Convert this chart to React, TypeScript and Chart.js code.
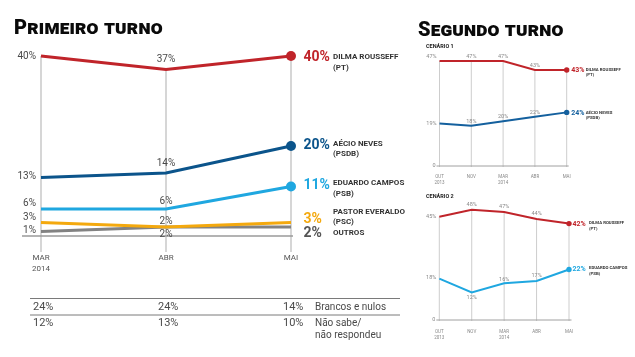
import { useEffect, useRef } from "react";
import { Chart, registerables } from "chart.js";

Chart.register(...registerables);

const FONT = "Roboto, 'Liberation Sans', sans-serif";

// ---------- Primeiro turno ----------
const MONTHS_1T = [["MAR", "2014"], ["ABR"], ["MAI"]];
const DILMA_1T = [40, 37, 40];
const AECIO_1T = [13, 14, 20];
const CAMPOS_1T = [6, 6, 11];
const EVERALDO_1T = [3, 2, 3];
const OUTROS_1T = [1, 2, 2];
const NAMES_1T = [
  ["DILMA ROUSSEFF", "(PT)"],
  ["AÉCIO NEVES", "(PSDB)"],
  ["EDUARDO CAMPOS", "(PSB)"],
  ["PASTOR EVERALDO", "(PSC)"],
  ["OUTROS"],
];
const BRANCOS_NULOS = [24, 24, 14];
const NAO_SABE = [12, 13, 10];
const TABLE_LABELS = [["Brancos e nulos"], ["Não sabe/", "não respondeu"]];

// ---------- Segundo turno ----------
const MONTHS_2T = [["OUT", "2013"], ["NOV"], ["MAR", "2014"], ["ABR"], ["MAI"]];
const C1_DILMA = [47, 47, 47, 43, 43];
const C1_AECIO = [19, 18, 20, 22, 24];
const C2_DILMA = [45, 48, 47, 44, 42];
const C2_CAMPOS = [18, 12, 16, 17, 22];
const NAMES_C1 = [["DILMA ROUSSEFF", "(PT)"], ["AÉCIO NEVES", "(PSDB)"]];
const NAMES_C2 = [["DILMA ROUSSEFF", "(PT)"], ["EDUARDO CAMPOS", "(PSB)"]];

const RED = "#c0242a";
const DARK_BLUE = "#0b548b";
const LIGHT_BLUE = "#1fa7e0";
const ORANGE = "#f4a90e";
const GRAY = "#828282";
const MID_BLUE = "#14609e";

interface PanelStyle {
  id: string;
  names: string[][];
  textColors: string[];
  grid: { color: string; width: number; extend: number };
  base: { color: string; width: number; left: number; right: number };
  value: { font: string; color: string };
  left: { gap: number; dy: number[]; zeroX?: number; zeroFont?: string };
  mid: { dy: number[][] };
  right: {
    valueFont: string;
    gap: number;
    dy: number[];
    nameFont: string;
    nameColor: string;
    nameGap: number;
    nameDy: number[];
    line: number;
  };
  xlab: { font: string; color: string; dy: number; line: number };
  title?: { text: string; x: number; y: number; font: string; color: string };
  table?: {
    lineY: number[];
    x0: number;
    x1: number;
    rowY: number[];
    lineH: number;
    colDx: number;
    labelDx: number;
    font: string;
    labelFont: string;
    color: string;
    lineColor: string;
    rows: number[][];
    labels: string[][];
  };
}

function txt(
  ctx: CanvasRenderingContext2D,
  s: string,
  x: number,
  y: number,
  font: string,
  color: string,
  align: CanvasTextAlign = "left"
) {
  ctx.font = font;
  ctx.fillStyle = color;
  ctx.textAlign = align;
  ctx.textBaseline = "middle";
  ctx.fillText(s, x, y);
}

function makePlugin(st: PanelStyle) {
  return {
    id: st.id,
    beforeDatasetsDraw(chart: any) {
      const { ctx } = chart;
      const x = chart.scales.x;
      const y = chart.scales.y;
      const n = chart.data.labels.length;
      const y0 = y.getPixelForValue(0);
      ctx.save();
      ctx.strokeStyle = st.grid.color;
      ctx.lineWidth = st.grid.width;
      for (let i = 0; i < n; i++) {
        let top = 0;
        chart.data.datasets.forEach((d: any) => {
          top = Math.max(top, d.data[i]);
        });
        const px = x.getPixelForValue(i);
        ctx.beginPath();
        ctx.moveTo(px, y.getPixelForValue(top));
        ctx.lineTo(px, y0 + st.grid.extend);
        ctx.stroke();
      }
      ctx.strokeStyle = st.base.color;
      ctx.lineWidth = st.base.width;
      ctx.beginPath();
      ctx.moveTo(x.getPixelForValue(0) - st.base.left, y0);
      ctx.lineTo(x.getPixelForValue(n - 1) + st.base.right, y0);
      ctx.stroke();
      ctx.restore();
    },
    afterDatasetsDraw(chart: any) {
      const { ctx } = chart;
      const x = chart.scales.x;
      const y = chart.scales.y;
      const labels = chart.data.labels as string[][];
      const n = labels.length;
      const y0 = y.getPixelForValue(0);
      ctx.save();
      chart.data.datasets.forEach((d: any, k: number) => {
        const data = d.data as number[];
        txt(
          ctx,
          `${data[0]}%`,
          x.getPixelForValue(0) - st.left.gap,
          y.getPixelForValue(data[0]) + st.left.dy[k],
          st.value.font,
          st.value.color,
          "right"
        );
        for (let i = 1; i < n - 1; i++) {
          txt(
            ctx,
            `${data[i]}%`,
            x.getPixelForValue(i),
            y.getPixelForValue(data[i]) + st.mid.dy[k][i - 1],
            st.value.font,
            st.value.color,
            "center"
          );
        }
        const xr = x.getPixelForValue(n - 1);
        const yr = y.getPixelForValue(data[n - 1]);
        txt(ctx, `${data[n - 1]}%`, xr + st.right.gap, yr + st.right.dy[k], st.right.valueFont, st.textColors[k]);
        st.names[k].forEach((line, j) => {
          txt(
            ctx,
            line,
            xr + st.right.nameGap,
            yr + st.right.nameDy[k] + j * st.right.line,
            st.right.nameFont,
            st.right.nameColor
          );
        });
      });
      if (st.left.zeroX !== undefined) {
        txt(ctx, "0", x.getPixelForValue(0) - st.left.zeroX, y0, st.left.zeroFont || st.value.font, st.value.color, "center");
      }
      labels.forEach((lab, i) => {
        lab.forEach((line, j) => {
          txt(ctx, line, x.getPixelForValue(i), y0 + st.xlab.dy + j * st.xlab.line, st.xlab.font, st.xlab.color, "center");
        });
      });
      if (st.title) {
        txt(ctx, st.title.text, st.title.x, st.title.y, st.title.font, st.title.color);
      }
      if (st.table) {
        const t = st.table;
        ctx.strokeStyle = t.lineColor;
        ctx.lineWidth = 1;
        t.lineY.forEach((ly) => {
          ctx.beginPath();
          ctx.moveTo(t.x0, ly);
          ctx.lineTo(t.x1, ly);
          ctx.stroke();
        });
        t.rows.forEach((row, r) => {
          row.forEach((v, i) => {
            txt(ctx, `${v}%`, x.getPixelForValue(i) + t.colDx, t.rowY[r], t.font, t.color);
          });
          t.labels[r].forEach((line, j) => {
            txt(ctx, line, x.getPixelForValue(n - 1) + t.labelDx, t.rowY[r] + j * t.lineH, t.labelFont, t.color);
          });
        });
      }
      ctx.restore();
    },
  };
}

function ds(data: number[], color: string, width: number, dot: number) {
  return {
    data,
    borderColor: color,
    backgroundColor: color,
    borderWidth: width,
    pointRadius: (c: any) => (dot > 0 && c.dataIndex === data.length - 1 ? dot : 0),
    pointBackgroundColor: color,
    pointBorderWidth: 0,
    pointHoverRadius: 0,
    tension: 0,
    fill: false,
    clip: false as any,
  };
}

function makeChart(
  canvas: HTMLCanvasElement,
  labels: string[][],
  datasets: any[],
  padding: { left: number; right: number; top: number; bottom: number },
  yMax: number,
  plugin: any
) {
  return new Chart(canvas, {
    type: "line",
    data: { labels: labels as any, datasets },
    options: {
      responsive: false,
      animation: false,
      devicePixelRatio: 1,
      events: [],
      layout: { padding },
      scales: {
        x: { display: false, offset: false },
        y: { display: false, min: 0, max: yMax },
      },
      plugins: { legend: { display: false }, tooltip: { enabled: false } },
    },
    plugins: [plugin],
  });
}

const MAIN_STYLE: PanelStyle = {
  id: "main1t",
  names: NAMES_1T,
  textColors: [RED, DARK_BLUE, LIGHT_BLUE, ORANGE, "#555555"],
  grid: { color: "#c9c9c9", width: 1.5, extend: 16 },
  base: { color: "#9a9a9a", width: 1.5, left: 19, right: 2 },
  value: { font: `10px ${FONT}`, color: "#4a4a4a" },
  left: { gap: 5, dy: [0.5, -1, -6, -5, -1] },
  mid: { dy: [[-10], [-10], [-8], [-6], [7]] },
  right: {
    valueFont: `bold 14px ${FONT}`,
    gap: 12.5,
    dy: [1, -1, -1, -3.5, 6],
    nameFont: `bold 8px ${FONT}`,
    nameColor: "#333333",
    nameGap: 42,
    nameDy: [1, -2.5, -3.5, -11, 6],
    line: 10.5,
  },
  xlab: { font: `8px ${FONT}`, color: "#555555", dy: 22, line: 10.5 },
  table: {
    lineY: [298.5, 315],
    x0: 30,
    x1: 400,
    rowY: [307.5, 323],
    lineH: 12,
    colDx: -8,
    labelDx: 24,
    font: `11px ${FONT}`,
    labelFont: `10px ${FONT}`,
    color: "#4a4a4a",
    lineColor: "#7a7a7a",
    rows: [BRANCOS_NULOS, NAO_SABE],
    labels: TABLE_LABELS,
  },
};

const C1_STYLE: PanelStyle = {
  id: "cen1",
  names: NAMES_C1,
  textColors: [RED, MID_BLUE],
  grid: { color: "#cdcdcd", width: 1, extend: 1 },
  base: { color: "#a0a0a0", width: 1, left: 3, right: 2 },
  value: { font: `5.5px ${FONT}`, color: "#8a8a8a" },
  left: { gap: 3, dy: [-4, 0], zeroX: 5.5, zeroFont: `5.5px ${FONT}` },
  mid: { dy: [[-4, -4, -4], [-4, -4.5, -4]] },
  right: {
    valueFont: `bold 7px ${FONT}`,
    gap: 4.5,
    dy: [0, 0.5],
    nameFont: `bold 4.3px ${FONT}`,
    nameColor: "#333333",
    nameGap: 19,
    nameDy: [0, 0.5],
    line: 5,
  },
  xlab: { font: `4.5px ${FONT}`, color: "#888888", dy: 11, line: 6 },
  title: { text: "CENÁRIO 1", x: 11, y: 6.7, font: `bold 5.5px ${FONT}`, color: "#222222" },
};

const C2_STYLE: PanelStyle = {
  id: "cen2",
  names: NAMES_C2,
  textColors: [RED, LIGHT_BLUE],
  grid: { color: "#cdcdcd", width: 1, extend: 1 },
  base: { color: "#a0a0a0", width: 1, left: 3, right: 2.5 },
  value: { font: `5.5px ${FONT}`, color: "#8a8a8a" },
  left: { gap: 3, dy: [0, -1], zeroX: 5.5, zeroFont: `5.5px ${FONT}` },
  mid: { dy: [[-5, -5, -5], [5, -4, -5]] },
  right: {
    valueFont: `bold 7px ${FONT}`,
    gap: 3.5,
    dy: [0.5, 0],
    nameFont: `bold 4.3px ${FONT}`,
    nameColor: "#333333",
    nameGap: 20,
    nameDy: [-0.5, -1.5],
    line: 5.5,
  },
  xlab: { font: `4.5px ${FONT}`, color: "#888888", dy: 11.7, line: 5.8 },
  title: { text: "CENÁRIO 2", x: 11, y: 10.7, font: `bold 5.5px ${FONT}`, color: "#222222" },
};

const titleStyle = (left: number, top: number): any => ({
  position: "absolute",
  left,
  top,
  margin: 0,
  fontFamily: FONT,
  fontWeight: 900,
  fontSize: 20,
  lineHeight: "20px",
  fontVariant: "small-caps",
  letterSpacing: "0.2px",
  color: "#0a0a0a",
  whiteSpace: "nowrap",
});

export default function App() {
  const mainRef = useRef<HTMLCanvasElement>(null);
  const c1Ref = useRef<HTMLCanvasElement>(null);
  const c2Ref = useRef<HTMLCanvasElement>(null);

  useEffect(() => {
    const charts: Chart[] = [];
    if (mainRef.current) {
      charts.push(
        makeChart(
          mainRef.current,
          MONTHS_1T,
          [
            ds(DILMA_1T, RED, 3, 5),
            ds(AECIO_1T, DARK_BLUE, 3, 5),
            ds(CAMPOS_1T, LIGHT_BLUE, 3, 5),
            ds(EVERALDO_1T, ORANGE, 3, 0),
            ds(OUTROS_1T, GRAY, 3, 0),
          ],
          { left: 41, right: 124, top: 56, bottom: 121 },
          40,
          makePlugin(MAIN_STYLE)
        )
      );
    }
    if (c1Ref.current) {
      charts.push(
        makeChart(
          c1Ref.current,
          MONTHS_2T,
          [ds(C1_DILMA, RED, 2, 2.7), ds(C1_AECIO, MID_BLUE, 2, 2.7)],
          { left: 24.5, right: 68.3, top: 21, bottom: 20 },
          47,
          makePlugin(C1_STYLE)
        )
      );
    }
    if (c2Ref.current) {
      charts.push(
        makeChart(
          c2Ref.current,
          MONTHS_2T,
          [ds(C2_DILMA, RED, 2, 2.7), ds(C2_CAMPOS, LIGHT_BLUE, 2, 2.7)],
          { left: 24.3, right: 66, top: 30.7, bottom: 37 },
          45,
          makePlugin(C2_STYLE)
        )
      );
    }
    return () => charts.forEach((c) => c.destroy());
  }, []);

  return (
    <div
      style={{
        position: "fixed",
        left: 0,
        top: 0,
        width: 635,
        height: 357,
        background: "#ffffff",
        overflow: "hidden",
      }}
    >
      <canvas
        ref={mainRef}
        width={415}
        height={357}
        style={{ position: "absolute", left: 0, top: 0, width: 415, height: 357 }}
      />
      <canvas
        ref={c1Ref}
        width={220}
        height={146}
        style={{ position: "absolute", left: 415, top: 40, width: 220, height: 146 }}
      />
      <canvas
        ref={c2Ref}
        width={220}
        height={171}
        style={{ position: "absolute", left: 415, top: 186, width: 220, height: 171 }}
      />
      <div style={titleStyle(14, 17)}>Primeiro turno</div>
      <div style={titleStyle(418, 18.5)}>Segundo turno</div>
    </div>
  );
}
